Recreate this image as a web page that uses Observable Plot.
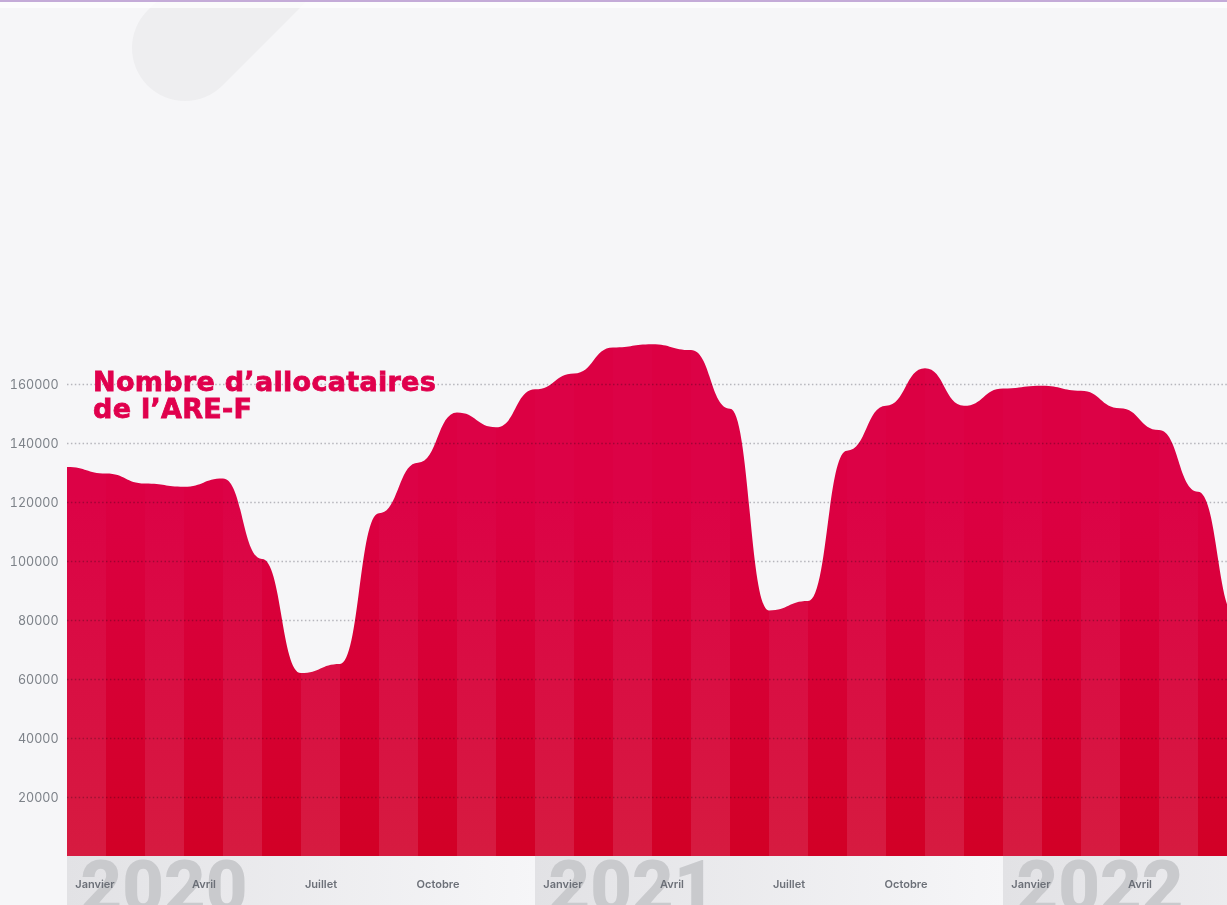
<!DOCTYPE html>
<html><head><meta charset="utf-8">
<script src="https://cdn.jsdelivr.net/npm/d3@7"></script>
<script src="https://cdn.jsdelivr.net/npm/@observablehq/plot@0.6"></script>
<style>
html,body{margin:0;padding:0;background:#f6f6f8;overflow:hidden;width:1227px;height:905px}
#page{position:relative;width:1227px;height:905px;overflow:hidden;background:#f6f6f8}
#topline{position:absolute;left:0;top:0;width:100%;height:2px;background:#c4abd8;z-index:3}
#topwhite{position:absolute;left:0;top:2px;width:100%;height:6px;background:rgba(255,255,255,0.7);z-index:2}
#blob{position:absolute;left:132px;top:-199px;width:106px;height:300px;border-radius:53px;background:#eeeef0;transform-origin:53px 247px;transform:rotate(45deg)}
#chart{position:absolute;left:0;top:0}
#title{position:absolute;left:93px;top:368px;font-family:"DejaVu Sans",sans-serif;font-weight:700;font-size:27px;line-height:27px;color:#e0004d;-webkit-text-stroke:0.8px #e0004d;letter-spacing:0.3px;white-space:nowrap}
</style>
</head><body>
<div id="page">
  <div id="blob"></div>
  <div id="topwhite"></div>
  <div id="topline"></div>
  <div id="chart"></div>
  <div id="title">Nombre d’allocataires<br>de l’ARE-F</div>
</div>
<script>
// Monthly data, January 2020 to July 2022
const months = ["2020-01","2020-02","2020-03","2020-04","2020-05","2020-06","2020-07","2020-08","2020-09","2020-10","2020-11","2020-12",
                "2021-01","2021-02","2021-03","2021-04","2021-05","2021-06","2021-07","2021-08","2021-09","2021-10","2021-11","2021-12",
                "2022-01","2022-02","2022-03","2022-04","2022-05","2022-06","2022-07"];
const allocataires = [131900,129700,126300,125200,128000,100700,62000,65100,116200,133300,150300,145300,
                      158200,163600,172400,173500,171500,151600,83200,86400,137400,152600,165300,152600,
                      158500,159400,157700,151800,144400,123500,80500];
const yTicks = [20000,40000,60000,80000,100000,120000,140000,160000];
const monthNames = ["Janvier","Février","Mars","Avril","Mai","Juin","Juillet","Août","Septembre","Octobre","Novembre","Décembre"];
const quarterMonths = [0,3,6,9];
const years = ["2020","2021","2022"];

const data = months.map((m, i) => ({i, month: m, v: allocataires[i]}));
const xMax = 1160 / 39; // visible months
const monthLabels = months.map((m, i) => ({i, m: +m.slice(5) - 1}))
  .filter(d => quarterMonths.includes(d.m) && d.i + 1 <= xMax + 0.5)
  .map(d => ({i: d.i, label: monthNames[d.m], jan: d.m === 0}));
const yearData = years.map((y, k) => ({i: k * 12, label: y}));

function defsMark(index, scales, values, dims) {
  const x = scales.x, y = scales.y;
  const defs = d3.create("svg:defs");
  const mk = (id, top, bottom) => {
    const g = defs.append("linearGradient").attr("id", id).attr("gradientUnits", "userSpaceOnUse")
      .attr("x1", 0).attr("x2", 0).attr("y1", y(175000)).attr("y2", y(0));
    g.append("stop").attr("offset", 0).attr("stop-color", top);
    g.append("stop").attr("offset", 0.3).attr("stop-color", top);
    g.append("stop").attr("offset", 1).attr("stop-color", bottom);
  };
  mk("gEven", "#dc0246", "#d61b40");
  mk("gOdd", "#dc0043", "#d20026");
  const w = x(1) - x(0);
  const p = defs.append("pattern").attr("id", "stripes").attr("patternUnits", "userSpaceOnUse")
    .attr("x", x(0)).attr("y", 0).attr("width", 2 * w).attr("height", dims.height);
  p.append("rect").attr("x", 0).attr("y", 0).attr("width", w).attr("height", dims.height).attr("fill", "url(#gEven)");
  p.append("rect").attr("x", w).attr("y", 0).attr("width", w).attr("height", dims.height).attr("fill", "url(#gOdd)");
  const bg = defs.append("linearGradient").attr("id", "bandGrad").attr("x1", 0).attr("x2", 1).attr("y1", 0).attr("y2", 0);
  bg.append("stop").attr("offset", 0).attr("stop-color", "#e2e2e5");
  bg.append("stop").attr("offset", 1).attr("stop-color", "#f6f6f8");
  return defs.node();
}

function axisBand(index, scales, values, dims) {
  const g = d3.create("svg:g");
  const y0 = dims.height - dims.marginBottom;
  for (const d of yearData) {
    g.append("rect").attr("x", scales.x(d.i)).attr("width", scales.x(d.i + 12) - scales.x(d.i))
      .attr("y", y0).attr("height", dims.marginBottom).attr("fill", "url(#bandGrad)");
  }
  return g.node();
}

const plot = Plot.plot({
  width: 1227, height: 905,
  marginLeft: 67, marginRight: 0, marginTop: 325, marginBottom: 49,
  style: {background: "none", fontFamily: "Inter, sans-serif", overflow: "hidden"},
  x: {domain: [0, xMax], axis: null},
  y: {domain: [0, 180000], axis: null},
  marks: [
    defsMark,
    axisBand,
    Plot.areaY(data, {x: "i", y: "v", curve: "bump-x", fill: "url(#stripes)", clip: true}),
    Plot.gridY(yTicks, {stroke: "#bdbdc2", strokeOpacity: 1, mixBlendMode: "multiply", strokeDasharray: "1.5,2.4", strokeWidth: 1.5}),
    Plot.axisY(yTicks, {tickSize: 0, tickPadding: 9, label: null, tickFormat: d => String(d), color: "#7d8289", fontSize: 12.5, fontFamily: "Inter, sans-serif"}),
    Plot.text(yearData, {x: "i", text: "label", frameAnchor: "bottom", textAnchor: "start", lineAnchor: "top", dx: 13, dy: 4,
      fontSize: 72, fontWeight: 900, fontFamily: "Roboto, sans-serif", fill: "#c9cacd"}),
    Plot.text(monthLabels.filter(d => !d.jan), {x: d => d.i + 0.5, text: "label", frameAnchor: "bottom", lineAnchor: "middle", dy: 28,
      fontSize: 11, fontWeight: 600, fill: "#6c7078"}),
    Plot.text(monthLabels.filter(d => d.jan), {x: d => d.i + 0.5, text: "label", frameAnchor: "bottom", lineAnchor: "middle", dy: 28, dx: 8,
      fontSize: 11, fontWeight: 600, fill: "#6c7078"})
  ]
});
document.getElementById("chart").appendChild(plot);
</script>
</body></html>
